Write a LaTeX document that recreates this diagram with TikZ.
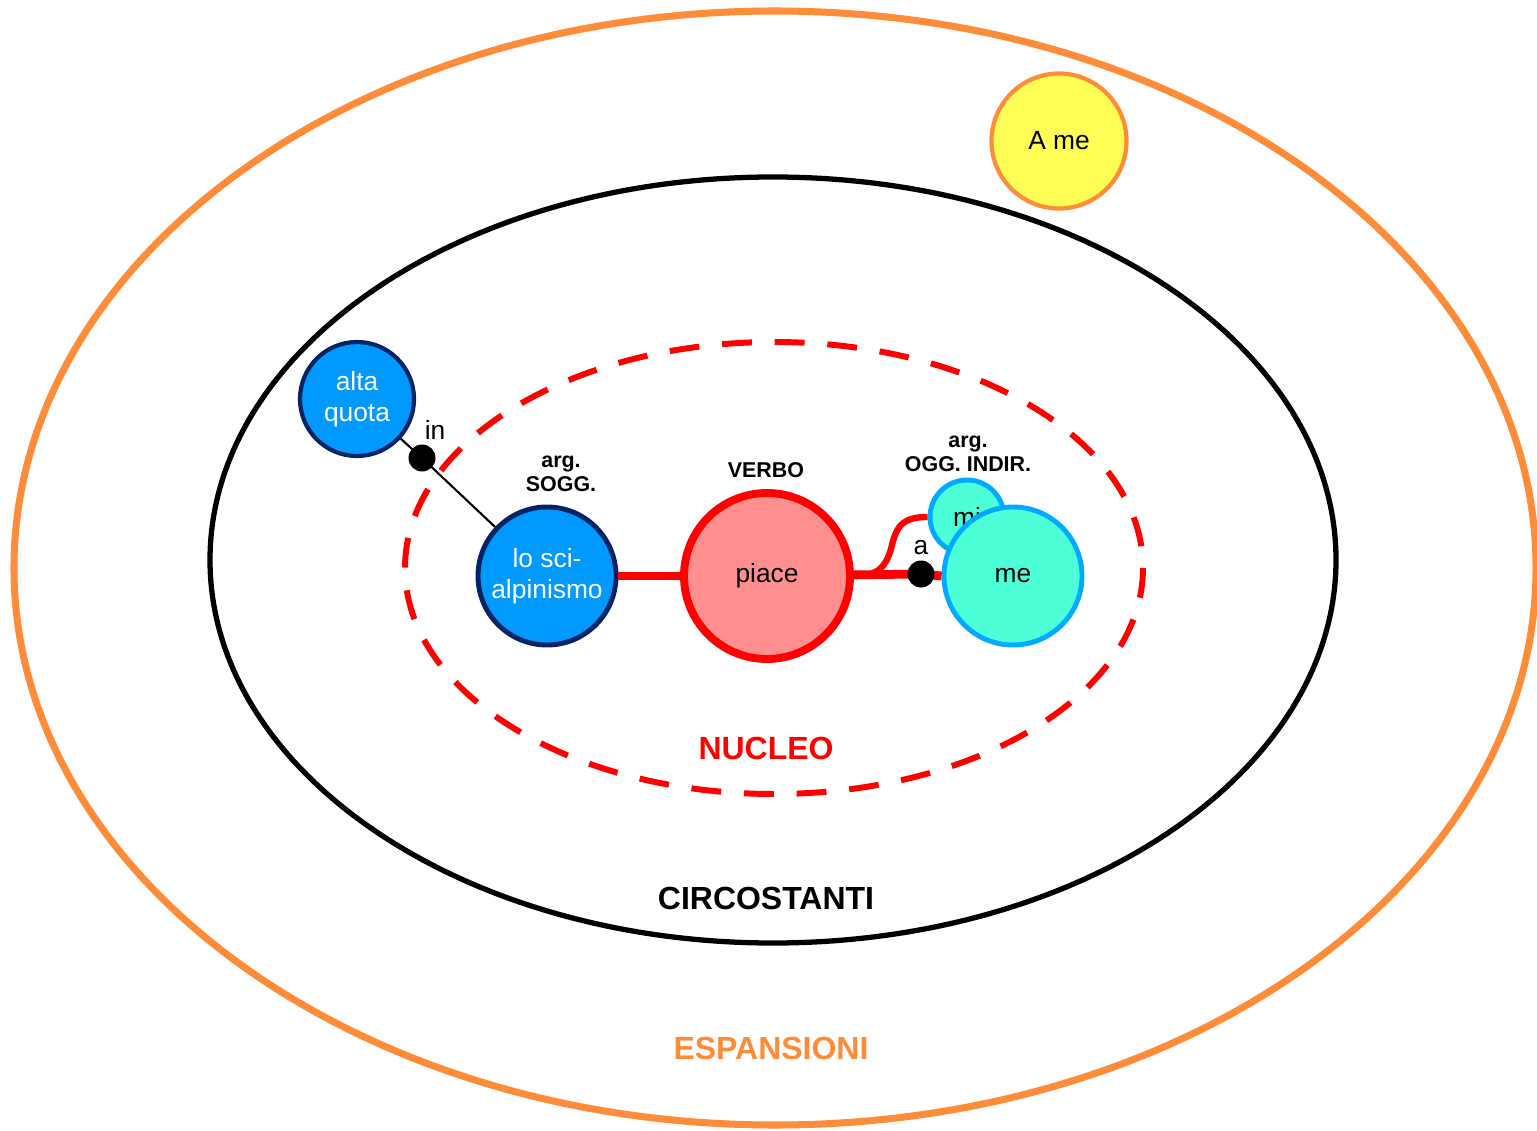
\documentclass[tikz,border=0pt]{standalone}
\usepackage{fontspec}
\setmainfont{Liberation Sans}
\usepackage{xcolor}
\definecolor{espansioni}{RGB}{255,140,56}
\definecolor{nucleo}{RGB}{255,0,0}
\definecolor{amefill}{RGB}{255,255,85}
\definecolor{argblue}{RGB}{0,153,255}
\definecolor{argnavy}{RGB}{0,36,100}
\definecolor{verbfill}{RGB}{255,143,143}
\definecolor{oggfill}{RGB}{77,255,215}
\definecolor{oggline}{RGB}{0,170,255}
\tikzstyle{node}=[circle, draw, inner sep=0pt, align=center, font=\fontsize{15}{18}\selectfont]
\tikzset{soggetto/.style={fill=argblue, draw=argnavy, line width=2.4pt, text=white}}
\tikzset{oggetto/.style={fill=oggfill, draw=oggline, line width=2.8pt}}
\tikzset{dot/.style={circle, fill=black, inner sep=0pt, minimum size=27*0.02cm}}
\tikzset{tag/.style={font=\fontsize{12.2}{13.5}\selectfont\bfseries, align=center}}
\tikzset{title/.style={font=\fontsize{18.2}{20}\selectfont\bfseries}}

\begin{document}
\begin{tikzpicture}[x=0.02cm, y=-0.02cm]
  \useasboundingbox (0,0) rectangle (1537,1131);
  %% Rings
  \draw[espansioni, line width=4pt] (775,568) ellipse [x radius=761, y radius=557];
  \draw[black, line width=3pt] (773,560) ellipse [x radius=563, y radius=383];
  \draw[nucleo, line width=3.4pt, dash pattern=on 17pt off 13pt] (774,568) ellipse [x radius=369, y radius=226];

  %% Circles
  \draw (1059,141) node[node, minimum size=135*0.02cm, fill=amefill, draw=espansioni, line width=2.4pt] (Ame) {A me};
  \draw (357,399) node[node, soggetto, minimum size=114*0.02cm] (alta) {alta\\quota};
  \draw (547,576) node[node, soggetto, line width=2.8pt, minimum size=138*0.02cm] (scialp) {lo sci-\\alpinismo};
  \draw (767,576) node[node, minimum size=166*0.02cm, fill=verbfill, draw=nucleo, line width=4.5pt] (piace) {piace};
  \draw (967,517) node[node, oggetto, minimum size=74*0.02cm] (mi) {mi};
  \draw (1013,576) node[node, oggetto, minimum size=138*0.02cm] (me) {me};

  %% Links
  \coordinate (inDot) at (422,458);
  \coordinate (aDot) at (921,574);
  \draw[black, line width=1.2pt] (alta) -- (inDot) -- (scialp);
  \draw[nucleo, line width=5pt] (scialp) -- (piace);
  \draw[nucleo, line width=5pt] (piace) -- (aDot) -- (me.west);
  \draw[nucleo, line width=3.6pt] (piace.east) .. controls +(26,0) and +(-5,16) .. (891,549)
    .. controls +(5,-22) and +(-26,0) .. (mi.west);
  \draw (inDot) node[dot] (inPrep) {};
  \draw (aDot) node[dot] (aPrep) {};
  \draw (inPrep) ++(13,-28) node[node, draw=none] {in};
  \draw (aPrep) ++(0,-26) node[node, draw=none] {a};

  %% Labels
  \draw (561,474) node[tag] {arg.\\SOGG.};
  \draw (766,470) node[tag] {VERBO};
  \draw (968,454) node[tag] {arg.\\OGG. INDIR.};
  \draw (766,748) node[title, text=nucleo] {NUCLEO};
  \draw (766,898) node[title] {CIRCOSTANTI};
  \draw (771,1048) node[title, text=espansioni] {ESPANSIONI};
\end{tikzpicture}
\end{document}
